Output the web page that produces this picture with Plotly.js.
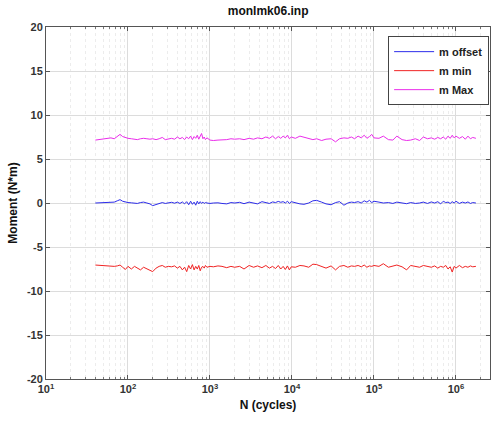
<!DOCTYPE html>
<html>
<head>
<meta charset="utf-8">
<script src="https://cdn.plot.ly/plotly-3.0.1.min.js"></script>
<style>
  html, body { margin: 0; padding: 0; background: #fff; }
  #chart { width: 492px; height: 421px; }
</style>
</head>
<body>
<div id="chart"></div>
<script>
// Cycle counts (N) at which the moments were sampled
const cycles = [
  40, 45, 50, 56, 62, 68, 74, 80, 86, 93,
  100, 110, 120, 130, 142, 155, 170, 185, 200, 220,
  240, 262, 285, 310, 340, 370, 400, 430, 460, 490,
  520, 550, 580, 610, 640, 670, 700, 730, 760, 790,
  820, 850, 880, 920, 1000, 1100, 1250, 1400, 1600, 1800,
  2000, 2300, 2600, 3000, 3400, 3800, 4300, 4800, 5300, 5800,
  6300, 6800, 7300, 7800, 8300, 8800, 9300, 9800, 11000, 12500,
  14000, 16000, 18000, 20000, 23000, 26000, 30000, 34000, 38000, 43000,
  48000, 53000, 58000, 64000, 70000, 76000, 82000, 88000, 94000, 100000,
  115000, 130000, 150000, 170000, 190000, 220000, 250000, 280000, 320000, 360000,
  400000, 450000, 500000, 550000, 600000, 650000, 700000, 750000, 800000, 850000,
  900000, 950000, 1000000, 1100000, 1200000, 1300000, 1400000, 1500000, 1600000, 1750000
];

// Mean moment (N*m)
const mOffset = [
  0.0, 0.02, 0.05, 0.08, 0.12, 0.1, 0.25, 0.38, 0.2, 0.1,
  0.05, 0.02, 0.0, -0.05, 0.05, 0.1, 0.0, -0.1, -0.3, -0.15,
  0.0, 0.05, -0.05, 0.02, 0.08, -0.02, 0.1, -0.05, 0.12, -0.1,
  0.15, -0.2, 0.2, -0.15, 0.1, -0.25, 0.2, -0.1, 0.15, -0.05,
  0.1, -0.05, 0.05, 0.0, -0.05, 0.0, 0.02, -0.05, -0.1, 0.05,
  0.0, 0.08, -0.08, 0.1, 0.0, -0.1, 0.15, 0.05, -0.05, 0.12,
  0.05, 0.18, 0.08, 0.15, 0.0, 0.2, -0.05, 0.15, 0.0, -0.1,
  -0.15, 0.0, 0.25, 0.3, 0.1, -0.1, -0.2, 0.05, 0.15, -0.25,
  0.0, 0.1, 0.05, 0.15, 0.0, 0.25, 0.1, 0.3, 0.05, 0.2,
  0.1, 0.0, 0.05, -0.05, 0.1, 0.0, -0.08, 0.05, -0.05, 0.0,
  0.1, -0.05, 0.12, 0.0, 0.15, -0.1, 0.2, 0.05, 0.1, -0.05,
  0.15, 0.0, 0.2, -0.05, 0.1, 0.0, 0.12, -0.05, 0.05, 0.0
];

// Minimum moment (N*m)
const mMin = [
  -7.05, -7.1, -7.1, -7.15, -7.2, -7.2, -7.15, -7.05, -7.3, -7.55,
  -7.2, -7.5, -7.2, -7.35, -7.6, -7.3, -7.5, -7.7, -7.8, -7.4,
  -7.2, -7.1, -7.3, -7.2, -7.25, -7.15, -7.4, -7.2, -7.6, -7.3,
  -7.8, -7.1, -7.5, -7.0, -7.6, -7.2, -7.5, -7.1, -7.7, -7.3,
  -7.2, -7.4, -7.1, -7.3, -7.2, -7.25, -7.15, -7.2, -7.35, -7.2,
  -7.3, -7.2, -7.5, -7.1, -7.3, -7.15, -7.35, -7.1, -7.4, -7.2,
  -7.45, -7.1, -7.5, -7.2, -7.55, -7.15, -7.6, -7.25, -7.3, -7.1,
  -7.15, -7.3, -6.95, -7.0, -7.25, -7.4, -7.15, -7.6, -7.2, -7.1,
  -7.3, -7.15, -7.2, -7.1, -7.25, -7.05, -7.3, -7.15, -7.2, -7.1,
  -7.2, -6.9, -7.3, -7.15, -7.05, -7.25, -7.6, -7.1, -7.2, -7.3,
  -7.1, -7.2, -7.3, -7.15, -7.4, -7.2, -7.3, -7.1, -7.5, -7.25,
  -7.85, -7.2, -7.4, -7.1, -7.35, -7.2, -7.3, -7.15, -7.25, -7.2
];

// Maximum moment (N*m)
const mMax = [
  7.15, 7.2, 7.25, 7.3, 7.4, 7.3, 7.6, 7.8, 7.55, 7.4,
  7.35, 7.3, 7.25, 7.2, 7.3, 7.35, 7.3, 7.25, 7.3, 7.2,
  7.3, 7.45, 7.2, 7.3, 7.35, 7.25, 7.5, 7.3, 7.45, 7.2,
  7.5, 7.3, 7.6, 7.2, 7.55, 7.35, 7.7, 7.25, 7.6, 7.9,
  7.3, 7.5, 7.2, 7.4, 7.15, 7.1, 7.15, 7.15, 7.2, 7.3,
  7.25, 7.3, 7.2, 7.35, 7.25, 7.4, 7.3, 7.5, 7.35, 7.6,
  7.3, 7.55, 7.35, 7.6, 7.4, 7.7, 7.3, 7.5, 7.35, 7.6,
  7.45, 7.3, 7.2, 7.3, 7.1, 7.25, 7.3, 6.95, 7.3, 7.4,
  7.35, 7.5, 7.3, 7.6, 7.4, 7.7, 7.35, 7.55, 7.8, 7.4,
  7.35, 7.6, 7.2, 7.15, 7.6, 7.2, 7.1, 7.15, 7.3, 7.1,
  7.5, 7.3, 7.4, 7.25, 7.45, 7.3, 7.5, 7.25, 7.6, 7.35,
  7.7, 7.4, 7.6, 7.35, 7.55, 7.25, 7.6, 7.3, 7.45, 7.35
];

// Axis tick positions and labels
const xTickVals = [10, 100, 1000, 10000, 100000, 1000000];
const xTickText = ['10<sup>1</sup>', '10<sup>2</sup>', '10<sup>3</sup>', '10<sup>4</sup>', '10<sup>5</sup>', '10<sup>6</sup>'];
const yTickVals = [-20, -15, -10, -5, 0, 5, 10, 15, 20];
const yTickText = ['-20', '-15', '-10', '-5', '0', '5', '10', '15', '20'];

const seriesNames = ['m offset', 'm min', 'm Max'];

const FONT = '"Liberation Sans", Arial, sans-serif';

const traces = [
  { x: cycles, y: mOffset, name: seriesNames[0], type: 'scatter', mode: 'lines',
    line: { color: 'rgb(45,45,235)', width: 1 } },
  { x: cycles, y: mMin, name: seriesNames[1], type: 'scatter', mode: 'lines',
    line: { color: 'rgb(240,35,35)', width: 1 } },
  { x: cycles, y: mMax, name: seriesNames[2], type: 'scatter', mode: 'lines',
    line: { color: 'rgb(235,45,235)', width: 1 } }
];

const axisCommon = {
  showline: true, linecolor: '#555', linewidth: 1, mirror: 'ticks',
  ticks: 'inside', ticklen: 4, tickcolor: '#555',
  gridcolor: '#dcdcdc', gridwidth: 1, zeroline: false,
  tickfont: { family: FONT, size: 11, color: '#333', weight: 'bold' }
};

const layout = {
  width: 492, height: 421,
  margin: { l: 46, r: 2, t: 27, b: 42 },
  paper_bgcolor: '#fff', plot_bgcolor: '#fff',
  font: { family: FONT, color: '#222' },
  title: {
    text: 'monlmk06.inp', x: 0.545, xanchor: 'center', y: 0.975, yanchor: 'middle',
    font: { family: FONT, size: 12, color: '#111', weight: 'bold' }
  },
  xaxis: Object.assign({}, axisCommon, {
    type: 'log', range: [1, 6.415],
    tickmode: 'array', tickvals: xTickVals, ticktext: xTickText,
    minor: { dtick: 'D1', ticks: 'inside', ticklen: 2, tickcolor: '#777', showgrid: true,
             gridcolor: '#ececec', griddash: 'dot', gridwidth: 1 },
    title: { text: 'N (cycles)', standoff: 6,
             font: { family: FONT, size: 12, color: '#111', weight: 'bold' } }
  }),
  yaxis: Object.assign({}, axisCommon, {
    range: [-20, 20], tickmode: 'array', tickvals: yTickVals, ticktext: yTickText,
    title: { text: 'Moment (N*m)', standoff: 6,
             font: { family: FONT, size: 12, color: '#111', weight: 'bold' } }
  }),
  showlegend: true,
  legend: {
    x: 0.998, xanchor: 'right', y: 0.974, yanchor: 'top',
    bgcolor: '#fff', bordercolor: '#444', borderwidth: 1,
    font: { family: FONT, size: 11, color: '#222', weight: 'bold' },
    tracegroupgap: 0, itemwidth: 40
  }
};

Plotly.newPlot('chart', traces, layout, { staticPlot: true, displayModeBar: false });
</script>
</body>
</html>
